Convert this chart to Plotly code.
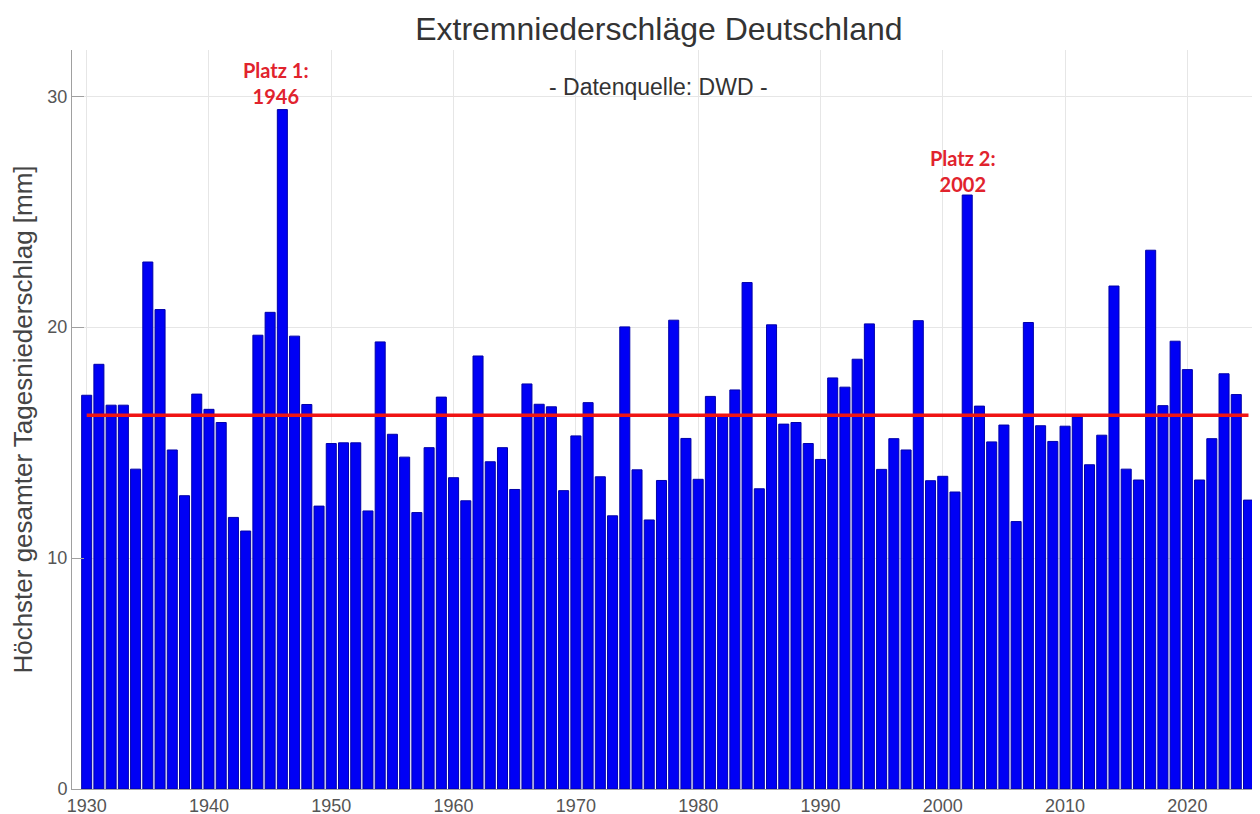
import plotly.graph_objects as go

years = list(range(1930, 2026))
values = [
    17.05, 18.39, 16.62, 16.62, 13.85, 22.82, 20.76, 14.68, 12.70, 17.10,  # 1930-1939
    16.44, 15.87, 11.76, 11.17, 19.65, 20.64, 29.42, 19.61, 16.65, 12.25,  # 1940-1949
    14.96, 14.99, 14.99, 12.04, 19.36, 15.36, 14.37, 11.97, 14.78, 16.97,  # 1950-1959
    13.48, 12.48, 18.75, 14.17, 14.78, 12.97, 17.54, 16.66, 16.55, 12.92,  # 1960-1969
    15.29, 16.73, 13.52, 11.83, 20.01, 13.82, 11.65, 13.36, 20.30, 15.18,  # 1970-1979
    13.41, 17.00, 16.18, 17.28, 21.93, 13.00, 20.10, 15.80, 15.87, 14.96,  # 1980-1989
    14.27, 17.80, 17.40, 18.61, 20.14, 13.84, 15.17, 14.68, 20.28, 13.35,  # 1990-1999
    13.54, 12.86, 25.72, 16.58, 15.03, 15.76, 11.58, 20.20, 15.73, 15.05,  # 2000-2009
    15.71, 16.12, 14.04, 15.32, 21.78, 13.85, 13.38, 23.33, 16.60, 19.39,  # 2010-2019
    18.16, 13.38, 15.17, 17.98, 17.08, 12.51,                              # 2020-2025
]
mean_value = 16.18
mean_years = [1930, 2025]

title_text = "Extremniederschläge Deutschland"
source_text = "- Datenquelle: DWD -"
y_title = "Höchster gesamter Tagesniederschlag [mm]"
rank_labels = [("Platz 1:<br>1946", 1946, 30.57, -6), ("Platz 2:<br>2002", 2002, 26.76, -4)]
x_ticks = [1930, 1940, 1950, 1960, 1970, 1980, 1990, 2000, 2010, 2020]
y_ticks = [0, 10, 20, 30]

fig = go.Figure()
fig.add_trace(go.Bar(
    x=years, y=values,
    marker=dict(color="rgb(0,0,245)", line=dict(color="rgb(0,0,170)", width=1)),
    showlegend=False,
))
fig.add_trace(go.Scatter(
    x=mean_years, y=[mean_value, mean_value], mode="lines",
    line=dict(color="rgb(240,20,20)", width=3.5), showlegend=False,
))

for text, yr, yv, xs in rank_labels:
    fig.add_annotation(
        x=yr, y=yv, xref="x", yref="y", text=f"<b>{text}</b>", showarrow=False,
        xshift=xs, yanchor="middle",
        font=dict(family="Lato", size=20, color="rgb(225,35,45)"),
    )

fig.add_annotation(
    x=0.494, y=0.95, xref="paper", yref="paper", text=source_text, showarrow=False,
    xanchor="center", yanchor="middle",
    font=dict(family="Liberation Sans, Arial", size=23, color="#333"),
)

fig.update_layout(
    width=1260, height=814,
    margin=dict(l=64, r=8, t=42, b=33, autoexpand=False),
    paper_bgcolor="white", plot_bgcolor="white",
    bargap=0.18,
    font=dict(family="Liberation Sans, Arial", color="#444"),
    title=dict(text=title_text, x=0.494, xref="paper", xanchor="center",
               y=0.974, yanchor="middle",
               font=dict(family="Liberation Sans, Arial", size=32, color="#333")),
    xaxis=dict(
        range=[1928.8, 2025.94], tickvals=x_ticks, showgrid=True,
        gridcolor="rgb(230,230,230)", showline=True, linecolor="rgb(160,160,160)",
        linewidth=1, ticks="", tickfont=dict(size=18, color="#555"), zeroline=False,
        automargin=False,
    ),
    yaxis=dict(
        range=[0, 32], tickvals=y_ticks, showgrid=True,
        gridcolor="rgb(230,230,230)", showline=True, linecolor="rgb(160,160,160)",
        linewidth=1, ticks="inside", ticklen=12, tickcolor="rgb(160,160,160)",
        tickfont=dict(size=18, color="#555"), zeroline=False, automargin=False,
        title=dict(text=y_title, font=dict(size=26, color="#444"), standoff=8),
    ),
)

fig.write_html("out.html")
